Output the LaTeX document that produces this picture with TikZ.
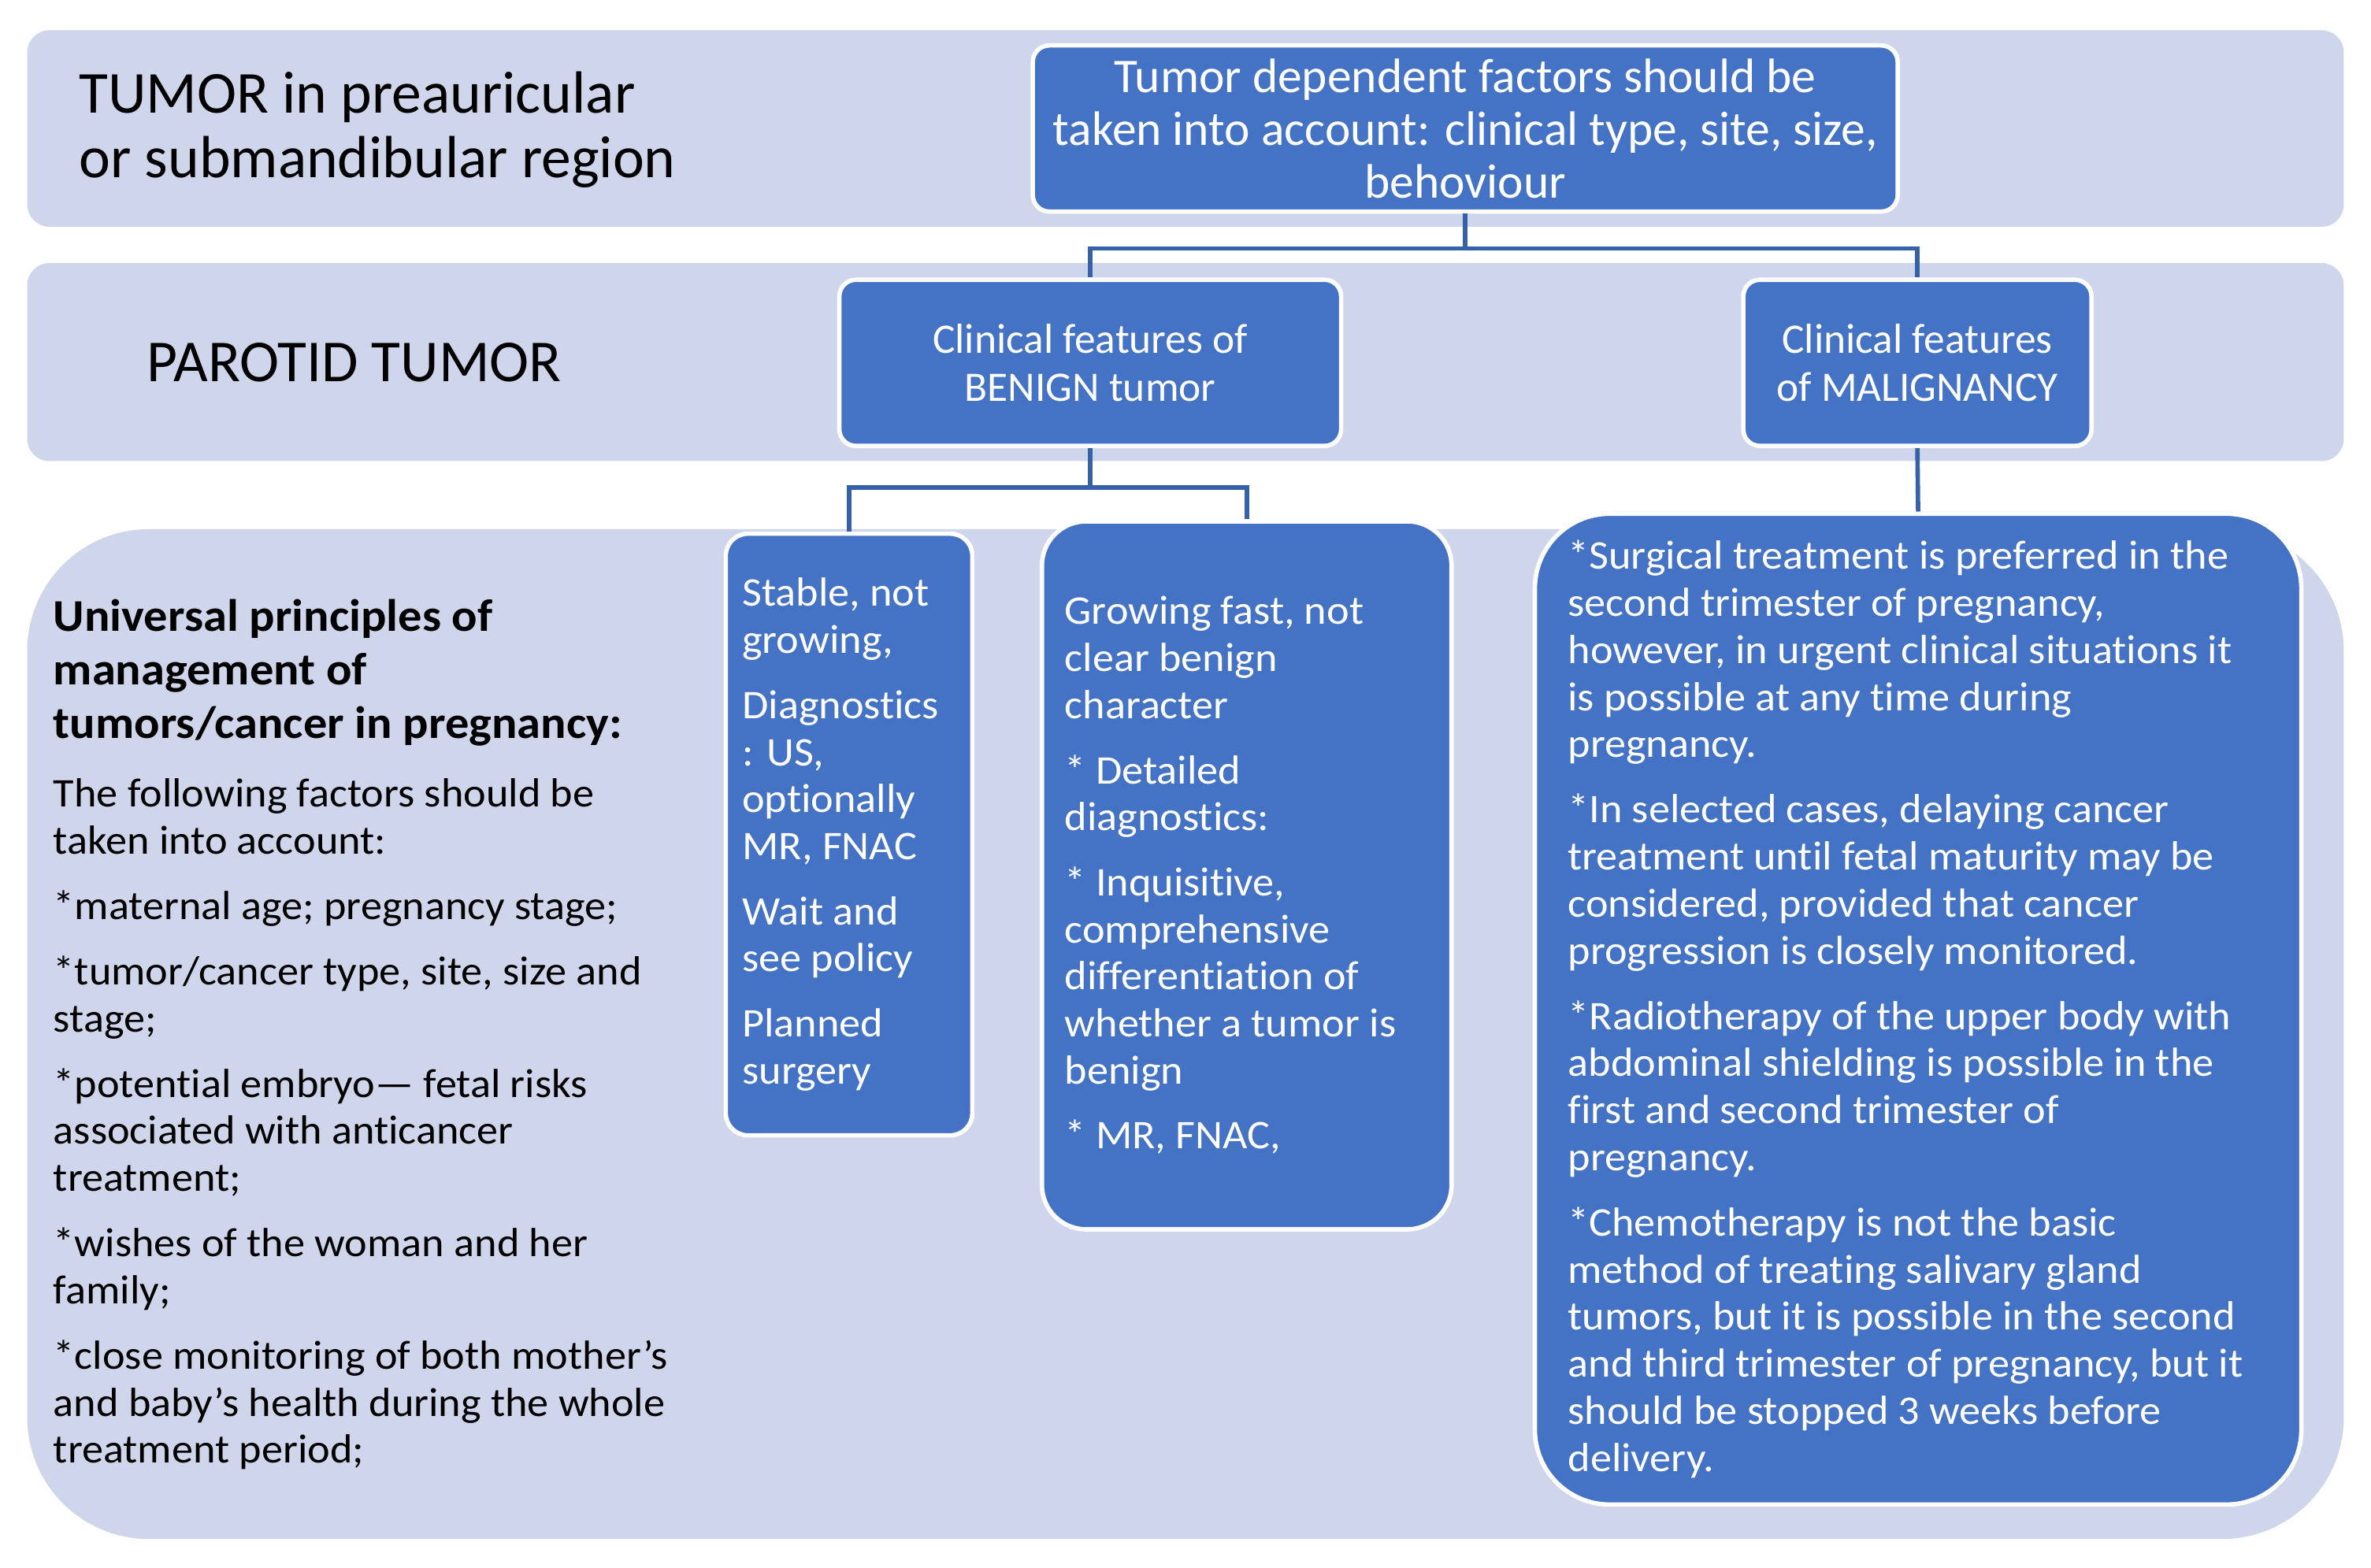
\documentclass[tikz,border=0pt]{standalone}
\usepackage{fontspec}
\setmainfont{Carlito}[Ligatures=NoCommon]
\newfontfamily\listfont[FakeStretch=1.05,Ligatures=NoCommon]{Carlito}
\usetikzlibrary{positioning}

\definecolor{bandblue}{HTML}{CFD5EA}
\definecolor{boxblue}{HTML}{4472C4}
\definecolor{linkblue}{HTML}{3561A8}

\newcommand\titlesize{\fontsize{21.5pt}{23.4pt}\selectfont}
\newcommand\factorsize{\fontsize{17.5pt}{19pt}\selectfont}
\newcommand\featuresize{\fontsize{15.2pt}{17.4pt}\selectfont}
\newcommand\listsize{\listfont\fontsize{14.7pt}{17pt}\selectfont}
\newcommand\headsize{\listfont\fontsize{16.4pt}{19.3pt}\selectfont\bfseries}

\begin{document}
\begin{tikzpicture}[
  x=0.0192cm, y=-0.0192cm,
  band/.style={fill=bandblue},
  box/.style={draw=white, line width=1.6pt, fill=boxblue, text=white, rounded corners=6pt, inner sep=0pt},
  listbox/.style={box, align=flush left, font=\listsize},
  link/.style={draw=linkblue, line width=1.6pt}
  ]
	\useasboundingbox (0,0) rectangle (1568,1037);

	% background bands
	\fill[band, rounded corners=8pt] (18,20) rectangle (1550,150);
	\fill[band, rounded corners=8pt] (18,174) rectangle (1550,305);
	\fill[band, rounded corners=44pt] (18,350) rectangle (1550,1018);

	\node[anchor=west, inner sep=0pt, align=left, font=\titlesize] (region) at (52,86) {TUMOR in preauricular\\or submandibular region};
	\node[anchor=west, inner sep=0pt, font=\titlesize] (parotid) at (97,240) {PAROTID TUMOR};

	\node[box, minimum width=10.98cm, minimum height=2.11cm, align=center, font=\factorsize] (factors) at (969,85) {Tumor dependent factors should be\\taken into account: clinical type, site, size,\\behoviour};

	\node[box, minimum width=6.37cm, minimum height=2.11cm, align=center, font=\featuresize] (benign) at (721,240) {Clinical features of\\BENIGN tumor};
	\node[box, minimum width=4.42cm, minimum height=2.11cm, align=center, font=\featuresize] (malign) at (1268,240) {Clinical features\\of MALIGNANCY};

	\node[listbox, rounded corners=8pt, inner xsep=0.21cm, text width=2.71cm, minimum height=7.64cm] (stable) at (561.5,552) {Stable, not\\growing,\\[6.5pt]
		Diagnostics\\: US,\\optionally\\MR, FNAC\\[6.5pt]
		Wait and\\see policy\\[6.5pt]
		Planned\\surgery};

	\node[listbox, rounded corners=16pt, inner xsep=0.29cm, text width=4.62cm, minimum height=8.99cm] (growing) at (824.5,579) {Growing fast, not\\clear benign\\character\\[6.5pt]
		* Detailed\\diagnostics:\\[6.5pt]
		* Inquisitive,\\comprehensive\\differentiation of\\whether a tumor is\\benign\\[6.5pt]
		* MR, FNAC,};

	\node[listbox, rounded corners=27pt, inner xsep=0.42cm, text width=8.89cm, minimum height=12.58cm] (surgery) at (1268.5,667.5) {*Surgical treatment is preferred in the\\second trimester of pregnancy,\\however, in urgent clinical situations it\\is possible at any time during\\pregnancy.\\[6.6pt]
		*In selected cases, delaying cancer\\treatment until fetal maturity may be\\considered, provided that cancer\\progression is closely monitored.\\[6.6pt]
		*Radiotherapy of the upper body with\\abdominal shielding is possible in the\\first and second trimester of\\pregnancy.\\[6.6pt]
		*Chemotherapy is not the basic\\method of treating salivary gland\\tumors, but it is possible in the second\\and third trimester of pregnancy, but it\\should be stopped 3 weeks before\\delivery.};

	\node[anchor=north west, inner sep=0pt, text width=8.6cm, align=flush left, font=\listsize] (principles) at (35,396) {{\headsize Universal principles of\\management of\\tumors/cancer in pregnancy:\par}\vspace{8pt}
		The following factors should be\\taken into account:\\[6.6pt]
		*maternal age; pregnancy stage;\\[6.6pt]
		*tumor/cancer type, site, size and\\stage;\\[6.6pt]
		*potential embryo— fetal risks\\associated with anticancer\\treatment;\\[6.6pt]
		*wishes of the woman and her\\family;\\[6.6pt]
		*close monitoring of both mother’s\\and baby’s health during the whole\\treatment period;};

	% connectors
	\draw[link] (factors.south) -- ++(0,23) -| (benign.north);
	\draw[link] (factors.south) -- ++(0,23) -| (malign.north);
	\draw[link] (benign.south) -- ++(0,26) -| (stable.north);
	\draw[link] (benign.south) -- ++(0,26) -| (growing.north);
	\draw[link] (malign.south) -- (surgery.north);
\end{tikzpicture}
\end{document}
